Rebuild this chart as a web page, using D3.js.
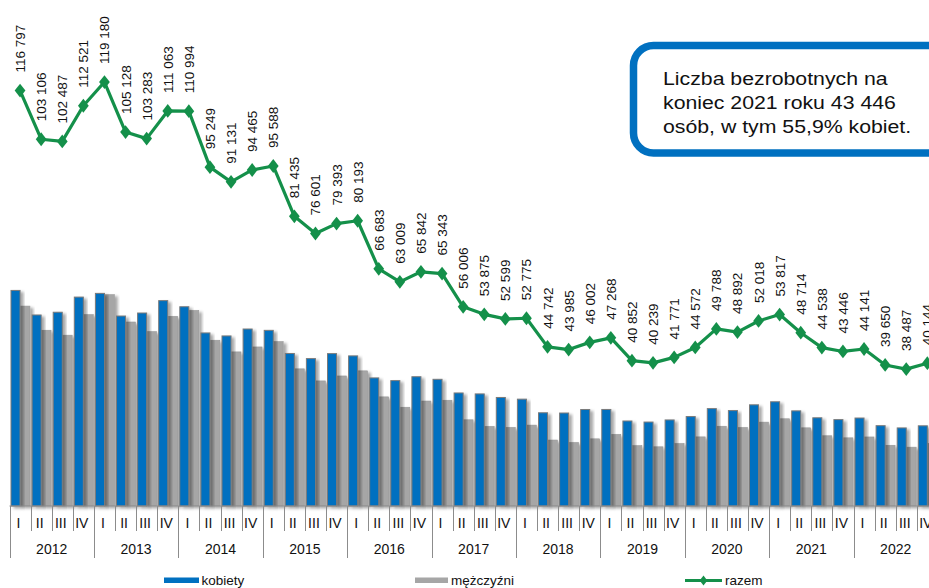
<!DOCTYPE html>
<html>
<head>
<meta charset="utf-8">
<script src="https://cdn.jsdelivr.net/npm/d3@7"></script>
<style>
  html, body { margin: 0; padding: 0; background: #fff; }
  svg { display: block; font-family: "Liberation Sans", Arial, sans-serif; }
</style>
</head>
<body>
<svg id="chart" width="929" height="588"></svg>
<script>
const years = ["2012","2013","2014","2015","2016","2017","2018","2019","2020","2021","2022"];
const quarterLabels = ["I","II","III","IV"];

const razem = [
  116797, 103106, 102487, 112521,
  119180, 105128, 103283, 111063,
  110994, 95249, 91131, 94465,
  95588, 81435, 76601, 79393,
  80193, 66683, 63009, 65842,
  65343, 56006, 53875, 52599,
  52775, 44742, 43985, 46002,
  47268, 40852, 40239, 41771,
  44572, 49788, 48892, 52018,
  53817, 48714, 44538, 43446,
  44141, 39650, 38487, 40144
];

const kobiety = [
  60600, 53700, 54472, 58731,
  59773, 53405, 54253, 57735,
  56015, 48650, 47810, 49757,
  49380, 42880, 41437, 42838,
  42200, 36008, 35248, 36340,
  35617, 31776, 31510, 30509,
  30036, 26205, 26140, 27123,
  27141, 23898, 23600, 24194,
  25143, 27373, 26827, 28443,
  29298, 26744, 24796, 24286,
  24732, 22581, 21949, 22541
];

const mezczyzni = [
  56197, 49406, 48015, 53790,
  59407, 51723, 49030, 53328,
  54979, 46599, 43321, 44708,
  46208, 38555, 35164, 36555,
  37993, 30675, 27761, 29502,
  29726, 24230, 22365, 22090,
  22739, 18537, 17845, 18879,
  20127, 16954, 16639, 17577,
  19429, 22415, 22065, 23575,
  24519, 21970, 19742, 19160,
  19409, 17069, 16538, 17603
];

const seriesNames = ["kobiety", "mężczyźni", "razem"];
const boxLines = ["Liczba bezrobotnych na", "koniec 2021 roku 43 446", "osób, w tym 55,9% kobiet."];

const colBlue = "#0070C0", colGray = "#A6A6A6", colGreen = "#14904A", axisCol = "#8c8c8c";

const svg = d3.select("#chart");
const idx = d3.range(razem.length);
const fmt = v => d3.format(",")(v).replace(/,/g, " ");

const x = d3.scaleBand().domain(idx).range([9.5, 9.5 + 21.1 * idx.length]).padding(0);
const y = d3.scaleLinear().domain([0, 140000]).range([506, 8]);
const bw = x.bandwidth();

// shadow filter
const defs = svg.append("defs");
const f = defs.append("filter").attr("id", "sh").attr("x", "-30%").attr("y", "-10%").attr("width", "180%").attr("height", "130%");
f.append("feDropShadow").attr("dx", 3).attr("dy", 2).attr("stdDeviation", 1.6)
  .attr("flood-color", "#000").attr("flood-opacity", 0.35);

// bars
const gBars = svg.append("g");
gBars.selectAll("rect.m").data(idx).join("rect").attr("class", "m")
  .attr("x", i => x(i) + bw * 0.5)
  .attr("y", i => y(mezczyzni[i]))
  .attr("width", bw * 0.47)
  .attr("height", i => y(0) - y(mezczyzni[i]))
  .attr("fill", colGray).attr("stroke", "#999").attr("stroke-width", 0.6)
  .attr("filter", "url(#sh)");
gBars.selectAll("rect.k").data(idx).join("rect").attr("class", "k")
  .attr("x", i => x(i) + 1.5)
  .attr("y", i => y(kobiety[i]))
  .attr("width", bw * 0.5 - 1.5)
  .attr("height", i => y(0) - y(kobiety[i]))
  .attr("fill", colBlue).attr("stroke", "#7a7a7a").attr("stroke-width", 1)
  .attr("filter", "url(#sh)");

// axis
const gAx = svg.append("g");
gAx.append("line").attr("x1", x.range()[0]).attr("x2", x.range()[1]).attr("y1", 506).attr("y2", 506)
  .attr("stroke", axisCol).attr("stroke-width", 1);
idx.concat([idx.length]).forEach(i => {
  const xx = Math.round(i < idx.length ? x(i) : x.range()[1]) + 0.5;
  const isYear = i % 4 === 0;
  gAx.append("line").attr("x1", xx).attr("x2", xx).attr("y1", 506).attr("y2", isYear ? 558 : 531)
    .attr("stroke", axisCol).attr("stroke-width", 1);
});
gAx.selectAll("text.q").data(idx).join("text").attr("class", "q")
  .attr("x", i => x(i) + bw / 2 - 1.5).attr("y", 528)
  .attr("text-anchor", "middle").attr("font-size", 14).attr("fill", "#111")
  .text(i => quarterLabels[i % 4]);
gAx.selectAll("text.y").data(years).join("text").attr("class", "y")
  .attr("x", (d, j) => x(j * 4) + bw * 2).attr("y", 554)
  .attr("text-anchor", "middle").attr("font-size", 14).attr("fill", "#111")
  .text(d => d);

// line
const line = d3.line().x(i => x(i) + bw / 2).y(i => y(razem[i]));
svg.append("path").datum(idx).attr("d", line).attr("fill", "none")
  .attr("stroke", colGreen).attr("stroke-width", 3.2).attr("stroke-linejoin", "round");
const diamond = d3.symbol().type(d3.symbolDiamond).size(55);
svg.selectAll("path.pt").data(idx).join("path").attr("class", "pt")
  .attr("d", diamond)
  .attr("transform", i => `translate(${x(i) + bw / 2},${y(razem[i])}) scale(1.35,1)`)
  .attr("fill", colGreen);
svg.selectAll("text.lab").data(idx).join("text").attr("class", "lab")
  .attr("transform", i => `translate(${x(i) + bw / 2 + 5},${y(razem[i]) - 18}) rotate(-90)`)
  .attr("font-size", 13.5).attr("fill", "#111")
  .text(i => fmt(razem[i]));

// text box
const box = svg.append("g");
box.append("rect").attr("x", 633.5).attr("y", 45.5).attr("width", 330).attr("height", 107.5)
  .attr("rx", 20).attr("ry", 20).attr("fill", "#fff").attr("stroke", colBlue).attr("stroke-width", 7.5);
box.selectAll("text").data(boxLines).join("text")
  .attr("transform", (d, j) => `translate(663,${85 + j * 24}) scale(1.15,1)`)
  .attr("font-size", 18.5).attr("fill", "#111").text(d => d);

// legend
const lg = svg.append("g");
lg.append("rect").attr("x", 164).attr("y", 577.5).attr("width", 35).attr("height", 5.5).attr("fill", colBlue);
lg.append("text").attr("x", 201.5).attr("y", 585).attr("font-size", 13.5).attr("fill", "#111").text(seriesNames[0]);
lg.append("rect").attr("x", 415).attr("y", 577.5).attr("width", 33).attr("height", 5.5).attr("fill", colGray);
lg.append("text").attr("x", 451).attr("y", 585).attr("font-size", 13.5).attr("fill", "#111").text(seriesNames[1]);
lg.append("line").attr("x1", 685).attr("x2", 722).attr("y1", 580.5).attr("y2", 580.5)
  .attr("stroke", colGreen).attr("stroke-width", 3.2);
lg.append("path").attr("d", d3.symbol().type(d3.symbolDiamond).size(30)).attr("transform", "translate(703.5,580.5) scale(1.3,1)").attr("fill", colGreen);
lg.append("text").attr("x", 725).attr("y", 585).attr("font-size", 13.5).attr("fill", "#111").text(seriesNames[2]);
</script>
</body>
</html>
